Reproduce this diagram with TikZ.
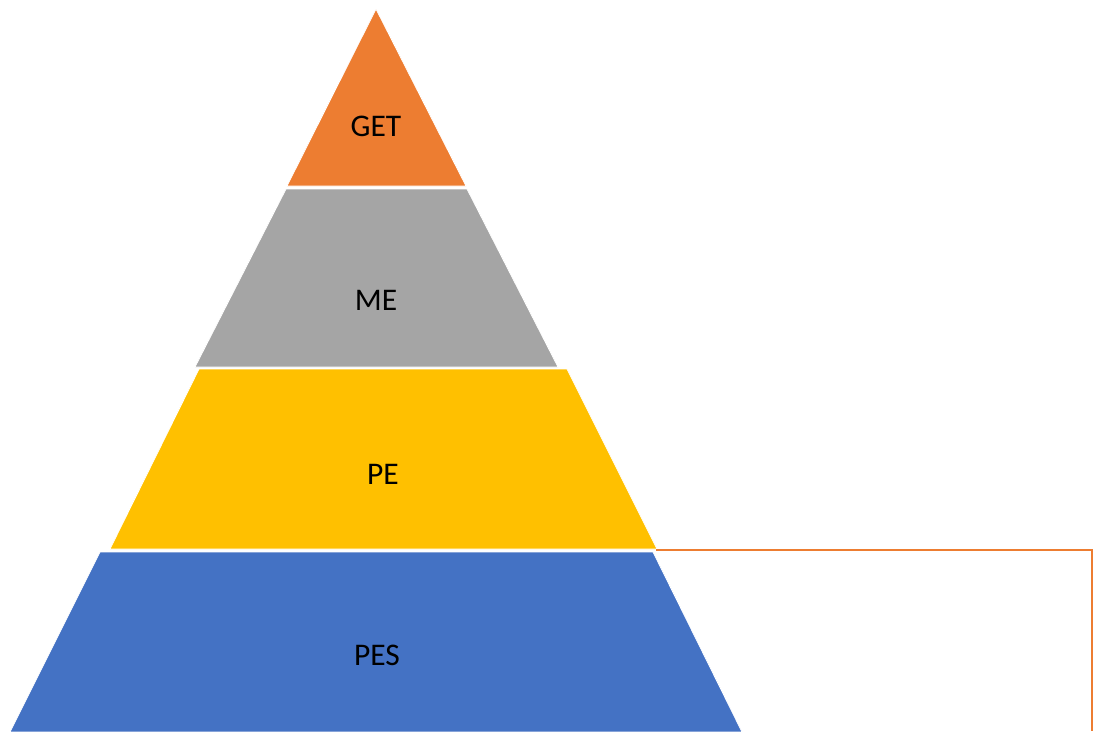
\documentclass[tikz,border=0pt]{standalone}
\usepackage{fontspec}
\setmainfont{Carlito}
\definecolor{cget}{HTML}{ED7D31}
\definecolor{cme}{HTML}{A5A5A5}
\definecolor{cpe}{HTML}{FFC000}
\definecolor{cpes}{HTML}{4472C4}
\begin{document}
\begin{tikzpicture}[x=1pt,y=-1pt,
  layer/.style={draw=white,line width=0.8pt},
  lbl/.style={font=\fontsize{31.5}{36}\selectfont,text=black,inner sep=0pt},
  link/.style={draw=cget,line width=2.2pt}]
\useasboundingbox (0,0) rectangle (1100,731);
\fill[white] (0,0) rectangle (1100,731);
% layers
\path[layer,fill=cget] (376,9) -- (466,186) -- (287,186) -- cycle;
\path[layer,fill=cme] (286,189) -- (467,189) -- (558,367) -- (195,367) -- cycle;
\path[layer,fill=cpe] (199,369) -- (567,369) -- (657,549) -- (110,549) -- cycle;
\path[layer,fill=cpes] (100,552) -- (653,552) -- (742,732) -- (10,732) -- cycle;
% labels
\node[lbl] (get) at (376,126) {GET};
\node[lbl] (me) at (376,300) {ME};
\node[lbl] (pe) at (383,474) {PE};
\node[lbl] (pes) at (377,655) {PES};
% connector
\coordinate (peCorner) at (656,550);
\coordinate (turn) at (1092,550);
\coordinate (endpt) at (1092,731);
\draw[link] (peCorner) -- (turn) -- (endpt);
\end{tikzpicture}
\end{document}
